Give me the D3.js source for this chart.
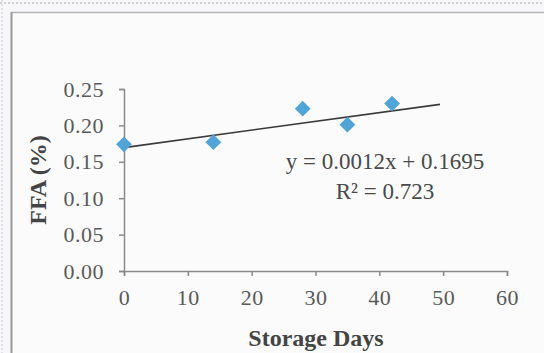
<!DOCTYPE html>
<html>
<head>
<meta charset="utf-8">
<script src="https://cdn.jsdelivr.net/npm/d3@7"></script>
<style>
  body { margin: 0; background: #f7f6f9; }
  svg { display: block; }
</style>
</head>
<body>
<div id="chart"></div>
<script>
// storage days vs FFA (%)
var days = [0, 14, 28, 35, 42];
var ffa = [0.174, 0.177, 0.223, 0.201, 0.230];
var xTicks = [0, 10, 20, 30, 40, 50, 60];
var yTicks = [0, 0.05, 0.10, 0.15, 0.20, 0.25];
var trend = [0.0012, 0.1695]; // slope, intercept
var trendRange = [0, 49.5];
var eqLines = ["y = 0.0012x + 0.1695", "R\u00b2 = 0.723"];

var w = 544, h = 353;

var svg = d3.select("#chart").append("svg")
  .attr("width", w)
  .attr("height", h);

svg.append("rect").attr("width", w).attr("height", h).attr("fill", "#f7f6f9");
svg.append("rect").attr("x", 11).attr("y", 12).attr("width", w).attr("height", h)
  .attr("fill", "#fbfbfc");

// photo frame lines
svg.append("line").attr("x1", 0).attr("x2", w).attr("y1", 3).attr("y2", 3)
  .attr("stroke", "#aaa").attr("stroke-dasharray", "2,2");
svg.append("line").attr("x1", 2).attr("x2", 2).attr("y1", 0).attr("y2", h)
  .attr("stroke", "#ccc").attr("stroke-dasharray", "2,2");
svg.append("line").attr("x1", 11).attr("x2", w).attr("y1", 12.5).attr("y2", 12.5)
  .attr("stroke", "#b5b5b5").attr("stroke-width", 1.5);
svg.append("line").attr("x1", 11.5).attr("x2", 11.5).attr("y1", 12).attr("y2", h)
  .attr("stroke", "#999").attr("stroke-width", 2);

var x = d3.scaleLinear().domain([0, 60]).range([124, 507]);
var y = d3.scaleLinear().domain([0, 0.25]).range([271, 89]);

var xAxis = svg.append("g")
  .attr("transform", "translate(0," + y(0) + ")")
  .call(d3.axisBottom(x).tickValues(xTicks).tickSize(5).tickPadding(13).tickFormat(d3.format("d")));

var yAxis = svg.append("g")
  .attr("transform", "translate(" + x(0) + ",0)")
  .call(d3.axisLeft(y).tickValues(yTicks).tickSize(5).tickPadding(15).tickFormat(d3.format(".2f")));

[xAxis, yAxis].forEach(function(g) {
  g.select(".domain").attr("stroke", "#8a8a8a").attr("stroke-width", 1.5);
  g.selectAll(".tick line").attr("stroke", "#8a8a8a").attr("stroke-width", 1.5);
  g.selectAll(".tick text")
    .attr("fill", "#5a5a5a")
    .style("font-family", "'Liberation Serif', 'Times New Roman', serif")
    .style("font-size", "22px")
    .style("letter-spacing", "0.5px");
});

// trendline
svg.append("line")
  .attr("x1", x(trendRange[0]))
  .attr("y1", y(trend[0] * trendRange[0] + trend[1]))
  .attr("x2", x(trendRange[1]))
  .attr("y2", y(trend[0] * trendRange[1] + trend[1]))
  .attr("stroke", "#3a3a3a")
  .attr("stroke-width", 1.6);

// points
var pts = days.map(function(d, i) { return { d: d, v: ffa[i] }; });
svg.selectAll("path.pt")
  .data(pts)
  .enter()
  .append("path")
  .attr("class", "pt")
  .attr("d", d3.symbol().type(d3.symbolSquare).size(125))
  .attr("transform", function(p) {
    return "translate(" + x(p.d) + "," + y(p.v) + ") rotate(45)";
  })
  .attr("fill", "#4fa5d8");

// equation text
svg.selectAll("text.eq")
  .data(eqLines)
  .enter()
  .append("text")
  .attr("class", "eq")
  .attr("x", 385)
  .attr("y", function(d, i) { return 169 + i * 30; })
  .attr("text-anchor", "middle")
  .attr("fill", "#4a4a4a")
  .style("font-family", "'Liberation Serif', 'Times New Roman', serif")
  .style("font-size", "23px")
  .text(function(d) { return d; });

// axis titles
svg.append("text")
  .attr("x", 316)
  .attr("y", 346)
  .attr("text-anchor", "middle")
  .attr("fill", "#444")
  .style("font-family", "'Liberation Serif', 'Times New Roman', serif")
  .style("font-weight", "bold")
  .style("font-size", "24px")
  .text("Storage Days");

svg.append("text")
  .attr("transform", "translate(46,180) rotate(-90)")
  .attr("text-anchor", "middle")
  .attr("fill", "#444")
  .style("font-family", "'Liberation Serif', 'Times New Roman', serif")
  .style("font-weight", "bold")
  .style("font-size", "24px")
  .text("FFA (%)");
</script>
</body>
</html>
